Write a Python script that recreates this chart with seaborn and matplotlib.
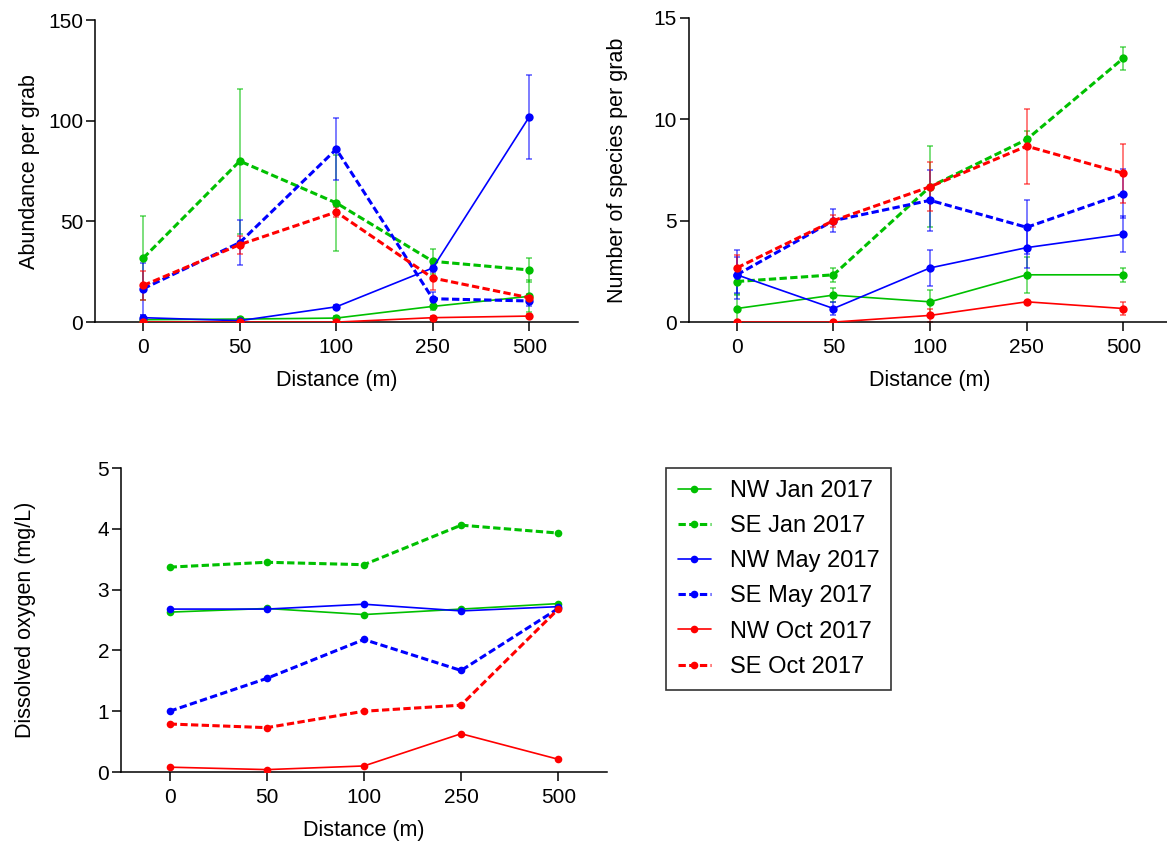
import numpy as np
import pandas as pd
import matplotlib
matplotlib.use("Agg")
import matplotlib.pyplot as plt
import seaborn as sns
from matplotlib.lines import Line2D

sns.set_style("ticks")
plt.rcParams['font.family'] = ['Liberation Sans', 'DejaVu Sans']
plt.rcParams['text.color'] = 'black'
plt.rcParams['axes.labelcolor'] = 'black'
plt.rcParams['xtick.color'] = 'black'
plt.rcParams['ytick.color'] = 'black'

distances = ["0", "50", "100", "250", "500"]
series_names = ["NW Jan 2017", "SE Jan 2017", "NW May 2017", "SE May 2017", "NW Oct 2017", "SE Oct 2017"]
series_colors = ["#00c000", "#00c000", "#0000ff", "#0000ff", "#ff0000", "#ff0000"]
series_dashed = [False, True, False, True, False, True]

# Abundance per grab (mean, SD)
abund_nw_jan = [1.2, 1.5, 2.0, 7.8, 12.8]
abund_nw_jan_err = [1.0, 1.0, 1.0, 2.0, 8.0]
abund_se_jan = [31.8, 80.0, 59.2, 30.2, 25.9]
abund_se_jan_err = [21.0, 36.0, 24.0, 6.2, 5.8]
abund_nw_may = [2.2, 0.7, 7.6, 26.9, 102.0]
abund_nw_may_err = [1.5, 0.5, 1.0, 2.0, 21.0]
abund_se_may = [16.6, 39.5, 85.9, 11.6, 10.5]
abund_se_may_err = [13.0, 11.0, 15.5, 3.5, 2.5]
abund_nw_oct = [0.0, 0.0, 0.0, 2.2, 3.0]
abund_nw_oct_err = [0.0, 0.0, 0.0, 1.0, 1.0]
abund_se_oct = [18.2, 38.5, 54.7, 21.9, 12.1]
abund_se_oct_err = [7.0, 4.5, 2.7, 5.8, 2.0]

# Number of species per grab (mean, SD)
spec_nw_jan = [0.67, 1.33, 1.0, 2.33, 2.33]
spec_nw_jan_err = [0.67, 0.33, 0.58, 0.9, 0.33]
spec_se_jan = [2.0, 2.33, 6.67, 9.0, 13.0]
spec_se_jan_err = [0.6, 0.33, 2.0, 0.4, 0.57]
spec_nw_may = [2.33, 0.67, 2.67, 3.67, 4.33]
spec_nw_may_err = [1.2, 0.33, 0.9, 1.0, 0.88]
spec_se_may = [2.33, 5.0, 6.0, 4.67, 6.33]
spec_se_may_err = [0.9, 0.57, 1.5, 1.33, 1.2]
spec_nw_oct = [0.0, 0.0, 0.33, 1.0, 0.67]
spec_nw_oct_err = [0.0, 0.0, 0.33, 0.0, 0.33]
spec_se_oct = [2.67, 5.0, 6.67, 8.67, 7.33]
spec_se_oct_err = [0.66, 0.3, 1.2, 1.85, 1.45]

# Dissolved oxygen (mg/L)
do_nw_jan = [2.63, 2.69, 2.59, 2.68, 2.77]
do_se_jan = [3.37, 3.45, 3.41, 4.06, 3.93]
do_nw_may = [2.68, 2.68, 2.76, 2.65, 2.72]
do_se_may = [1.00, 1.54, 2.18, 1.67, 2.69]
do_nw_oct = [0.08, 0.04, 0.10, 0.63, 0.21]
do_se_oct = [0.79, 0.73, 1.00, 1.10, 2.68]

abund = [abund_nw_jan, abund_se_jan, abund_nw_may, abund_se_may, abund_nw_oct, abund_se_oct]
abund_err = [abund_nw_jan_err, abund_se_jan_err, abund_nw_may_err, abund_se_may_err, abund_nw_oct_err, abund_se_oct_err]
spec = [spec_nw_jan, spec_se_jan, spec_nw_may, spec_se_may, spec_nw_oct, spec_se_oct]
spec_err = [spec_nw_jan_err, spec_se_jan_err, spec_nw_may_err, spec_se_may_err, spec_nw_oct_err, spec_se_oct_err]
dox = [do_nw_jan, do_se_jan, do_nw_may, do_se_may, do_nw_oct, do_se_oct]

fig = plt.figure(figsize=(11.67, 8.41), dpi=100)
ax1 = fig.add_axes([0.0814, 0.617, 0.4135, 0.359])
ax2 = fig.add_axes([0.590, 0.617, 0.414, 0.362])
ax3 = fig.add_axes([0.1037, 0.082, 0.4163, 0.3615])

xpos = np.arange(len(distances))
DASH = (0, (2.4, 1.1))
LW_DASH = 2.2
LW_SOLID = 1.2

def draw(ax, values, errs, ms):
    for i, name in enumerate(series_names):
        df = pd.DataFrame({"x": xpos, "y": values[i]})
        ls = DASH if series_dashed[i] else "-"
        lw = LW_DASH if series_dashed[i] else LW_SOLID
        if errs is not None:
            ax.errorbar(xpos, values[i], yerr=errs[i], fmt="none", ecolor=series_colors[i],
                        elinewidth=1.2, capsize=2.5, capthick=1.2, alpha=0.6, zorder=2)
        sns.lineplot(data=df, x="x", y="y", ax=ax, color=series_colors[i], linestyle=ls,
                     linewidth=lw, marker="o", markersize=ms, markeredgewidth=0,
                     markeredgecolor=series_colors[i], legend=False, zorder=3)

def style(ax, ylim, yticks, ylabel, ylab_x):
    ax.set_xlim(-0.5, 4.5)
    ax.set_ylim(*ylim)
    ax.set_yticks(yticks)
    ax.set_xticks(xpos)
    ax.set_xticklabels(distances)
    ax.set_xlabel("Distance (m)", fontsize=15.5, labelpad=9)
    ax.set_ylabel(ylabel, fontsize=15.5)
    ax.yaxis.set_label_coords(ylab_x, 0.5)
    ax.tick_params(axis="both", labelsize=15, length=6.5, width=1.1, direction="out",
                   color="black", labelcolor="black")
    ax.tick_params(axis="x", pad=5)
    ax.tick_params(axis="y", pad=2)
    for s in ["top", "right"]:
        ax.spines[s].set_visible(False)
    for s in ["left", "bottom"]:
        ax.spines[s].set_linewidth(1.1)
        ax.spines[s].set_color("black")
    ax.set_facecolor("white")

draw(ax1, abund, abund_err, 6)
style(ax1, (0, 150), [0, 50, 100, 150], "Abundance per grab", -0.115)
draw(ax2, spec, spec_err, 6)
style(ax2, (0, 15), [0, 5, 10, 15], "Number of species per grab", -0.125)
draw(ax3, dox, None, 5.5)
style(ax3, (0, 5), [0, 1, 2, 3, 4, 5], "Dissolved oxygen (mg/L)", -0.176)

handles = []
for i, name in enumerate(series_names):
    ls = DASH if series_dashed[i] else "-"
    lw = LW_DASH if series_dashed[i] else LW_SOLID
    handles.append(Line2D([0], [0], color=series_colors[i], linestyle=ls, linewidth=lw,
                          marker="o", markersize=5.5, markeredgewidth=0))
leg = fig.legend(handles=handles, labels=series_names, loc="upper left",
                 bbox_to_anchor=(0.5707, 0.4435), borderaxespad=0, fontsize=17, frameon=True,
                 fancybox=False, edgecolor="black", handlelength=1.4,
                 handletextpad=0.8, labelspacing=0.56, borderpad=0.5)
leg.get_frame().set_linewidth(1.2)

fig.savefig("out.png", dpi=100, facecolor="white")
